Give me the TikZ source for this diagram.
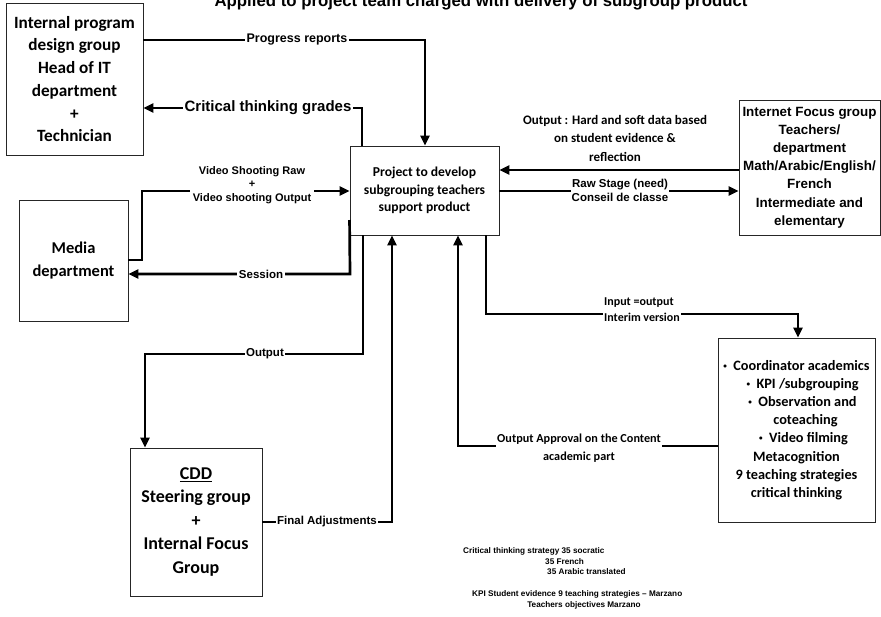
\documentclass[tikz,border=0pt]{standalone}
\usepackage{fontspec}
\setmainfont{Carlito}
\newfontfamily\arialf{Liberation Sans}
\usetikzlibrary{arrows.meta}
\newcommand{\smbul}{\raisebox{0.3ex}{\scalebox{0.5}{•}}}
\begin{document}
\begin{tikzpicture}[x=1pt,y=-1pt,
  box/.style={draw=black!85,line width=0.9pt,inner sep=0pt,align=center},
  conn/.style={line width=2.7pt},
  arr/.style={conn,-{Triangle[length=10pt,width=9pt]}},
  lbl/.style={fill=white,inner sep=1.5pt,align=center},
  ari/.style={font=\arialf\bfseries\fontsize{#1}{#1}\selectfont},
  ]
\useasboundingbox (0,0) rectangle (881,616);
\fill[white] (0,0) rectangle (881,616);

% title
\node[anchor=base,font=\arialf\bfseries\fontsize{16.8}{20}\selectfont] (title) at (481,6.5) {Applied to project team charged with delivery of subgroup product};

% boxes
\node[box,minimum width=137pt,minimum height=152pt,font=\bfseries\fontsize{17.2}{22.7}\selectfont] (ipd) at (74.5,79)
  {Internal program\\design group\\Head of IT\\department\\+\\Technician};
\node[box,minimum width=109pt,minimum height=121pt,font=\bfseries\fontsize{16.5}{23}\selectfont] (media) at (73.5,260.5)
  {Media\\department};
\node[box,minimum width=149pt,minimum height=89pt,font=\bfseries\fontsize{13.6}{17.7}\selectfont] (proj) at (424.5,190.5)
  {Project to develop\\subgrouping teachers\\support product};
\node[box,minimum width=141pt,minimum height=135pt,font=\arialf\bfseries\fontsize{13.4}{18.2}\selectfont] (ifg) at (809.5,167.5)
  {Internet Focus group\\Teachers/\\department\\Math/Arabic/English/\\French\\Intermediate and\\elementary};
\node[box,minimum width=157pt,minimum height=184pt,font=\bfseries\fontsize{14.3}{18.2}\selectfont] (coord) at (796.5,430)
  {\smbul\ \ Coordinator academics\\\hspace*{12pt}\smbul\ \ KPI /subgrouping\\\hspace*{12pt}\smbul\ \ Observation and\\\hspace*{18pt}coteaching\\\hspace*{14pt}\smbul\ \ Video filming\\Metacognition\\9 teaching strategies\\critical thinking};
\node[box,minimum width=132pt,minimum height=148pt,font=\bfseries\fontsize{18}{23.5}\selectfont] (cdd) at (196,522)
  {\underline{CDD}\\Steering group\\+\\Internal Focus\\Group};

% Progress reports
\coordinate (pr) at (425,40);
\draw[arr] (ipd.east |- pr) -| (proj.north -| pr);
\node[lbl,ari=12.5] (prl) at (297,40) {Progress reports};

% Critical thinking grades
\coordinate (ct) at (362,108);
\draw[arr] (proj.north -| ct) |- (ipd.east |- ct);
\node[lbl,ari=15] (ctl) at (268,108) {Critical thinking grades};

% Video shooting
\coordinate (v1) at (142,260);
\coordinate (v2) at (142,191);
\draw[arr] (media.east |- v1) -- (v1) -- (v2) -- (proj.west |- v2);
\node[lbl,inner sep=3pt,font=\arialf\bfseries\fontsize{11}{13.3}\selectfont] (vl) at (252,185)
  {Video Shooting Raw\\+\\Video shooting Output};

% Session
\coordinate (s1) at (350,220);
\coordinate (s2) at (350,274);
\draw[arr] (proj.west |- s1) -- (s2) -- (media.east |- s2);
\node[lbl,ari=11.5] (sl) at (261,274) {Session};

% Output to CDD
\coordinate (o1) at (363,354);
\coordinate (o2) at (145,354);
\draw[arr] (proj.south -| o1) -- (o1) -- (o2) -- (cdd.north -| o2);
\node[lbl,ari=11.5] (ol) at (265,354) {Output};

% Final adjustments
\coordinate (f1) at (392,522);
\draw[arr] (cdd.east |- f1) -- (f1) -- (proj.south -| f1);
\node[lbl,ari=11.5] (fl) at (327,522) {Final Adjustments};

% Output hard and soft data
\coordinate (h1) at (600,170);
\draw[arr] (ifg.west |- h1) -- (proj.east |- h1);
\node[align=center,font=\bfseries\fontsize{13}{18.5}\selectfont] (hl) at (615,138)
  {Output : Hard and soft data based\\on student evidence \&\\reflection};

% Raw stage
\coordinate (r1) at (600,191);
\draw[arr] (proj.east |- r1) -- (ifg.west |- r1);
\node[lbl,inner sep=1pt,font=\arialf\bfseries\fontsize{11.5}{14.2}\selectfont] (rl) at (620,190)
  {Raw Stage (need)\\Conseil de classe};

% Input = output
\coordinate (i1) at (486,314);
\coordinate (i2) at (798,314);
\draw[arr] (proj.south -| i1) -- (i1) -- (i2) -- (coord.north -| i2);
\node[lbl,align=left,inner sep=1pt,font=\bfseries\fontsize{12}{16}\selectfont] (il) at (642,310)
  {Input =output\\Interim version};

% Output approval
\coordinate (a1) at (458,446);
\draw[arr] (coord.west |- a1) -| (proj.south -| a1);
\node[lbl,inner sep=1pt,font=\bfseries\fontsize{12.2}{18}\selectfont] (al) at (579,448)
  {Output Approval on the Content\\academic part};

% footnote
\node[anchor=west,inner sep=0pt,ari=8.2] (n1) at (463,551) {Critical thinking strategy 35 socratic};
\node[anchor=west,inner sep=0pt,ari=8.2] (n2) at (545,562) {35 French};
\node[anchor=west,inner sep=0pt,ari=8.2] (n3) at (547,572) {35 Arabic translated};
\node[anchor=west,inner sep=0pt,ari=8.2] (n4) at (472,594) {KPI Student evidence 9 teaching strategies – Marzano};
\node[inner sep=0pt,ari=8.2] (n5) at (584,605) {Teachers objectives Marzano};
\end{tikzpicture}
\end{document}
